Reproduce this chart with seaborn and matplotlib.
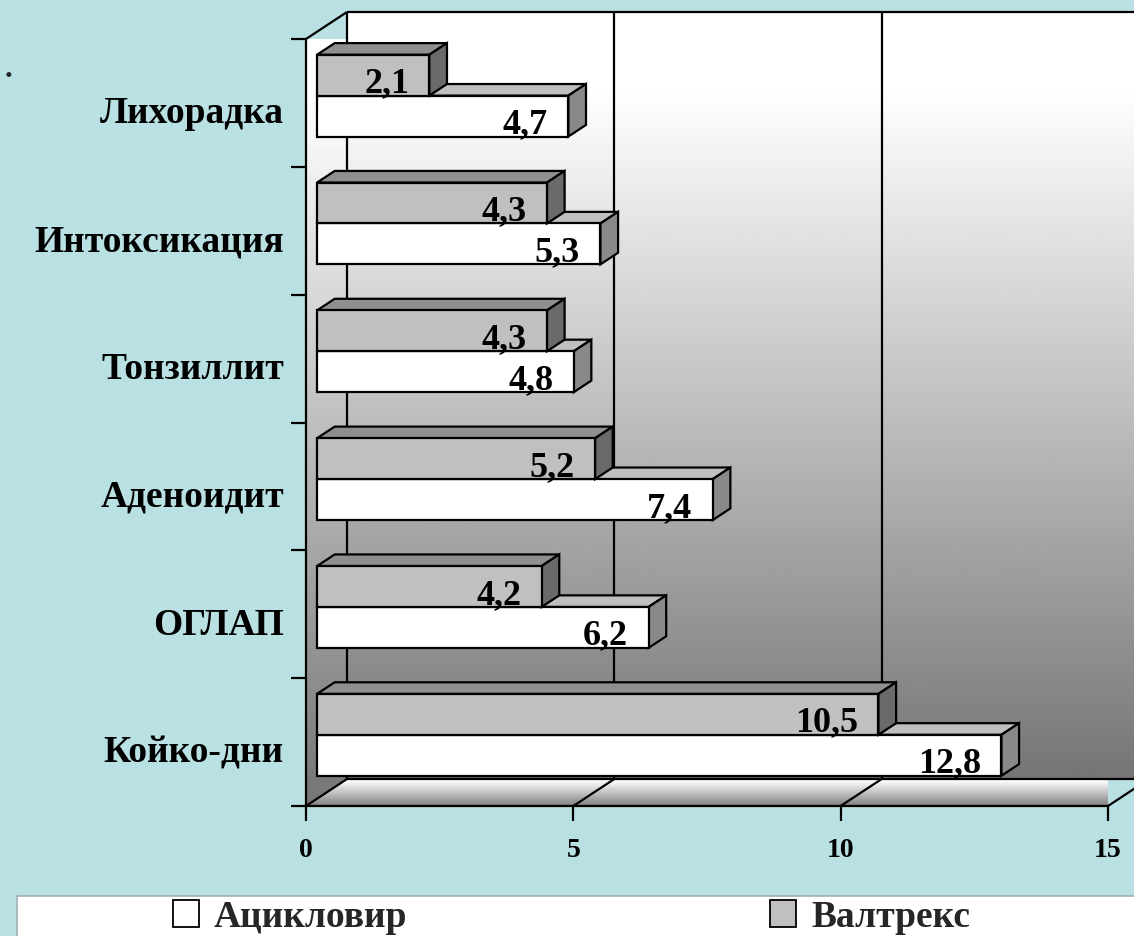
import numpy as np
import pandas as pd
import matplotlib
matplotlib.use("Agg")
import matplotlib.pyplot as plt
from matplotlib.patches import Polygon, Rectangle, Patch
from matplotlib.transforms import Affine2D, ScaledTranslation
import seaborn as sns

# ---- data ----
categories = ["Лихорадка", "Интоксикация", "Тонзиллит", "Аденоидит", "ОГЛАП", "Койко-дни"]
aciclovir = [4.7, 5.3, 4.8, 7.4, 6.2, 12.8]
valtrex = [2.1, 4.3, 4.3, 5.2, 4.2, 10.5]
series_names = ["Ацикловир", "Валтрекс"]
x_ticks = [0, 5, 10, 15]

df = pd.DataFrame({
    "category": categories * 2,
    "value": aciclovir + valtrex,
    "drug": [series_names[0]] * len(categories) + [series_names[1]] * len(categories),
})

# ---- figure ----
W, H, DPI = 1134, 937, 100
sns.set_theme(style="white")
plt.rcParams["font.family"] = ["Liberation Serif", "DejaVu Serif"]
plt.rcParams["font.weight"] = "bold"

BG = "#b9e0e3"
fig = plt.figure(figsize=(W / DPI, H / DPI), dpi=DPI, facecolor=BG)

# front plane of the 3-D box (pixels)
left_px, right_px, top_px, bottom_px = 306, 1108, 40, 807
ax = fig.add_axes([left_px / W, 1 - bottom_px / H,
                   (right_px - left_px) / W, (bottom_px - top_px) / H])
ax.set_facecolor("none")

XMAX = x_ticks[-1]
YTOP, YBOT = -0.5, len(categories) - 0.5
px_x = (right_px - left_px) / XMAX
px_y = (bottom_px - top_px) / len(categories)
DX = 41 / px_x          # full box depth, horizontal component (data units)
DY = 27 / px_y          # full box depth, vertical component (data units)


def depth(d):
    return d * DX, -d * DY


def gradient(n, top, bottom, hold=0.0):
    t = np.linspace(0, 1, n)
    t = np.clip((t - hold) / (1 - hold), 0, 1)
    v = top + (bottom - top) * t
    return np.repeat(v[:, None], 2, axis=1)


# ---- walls and floor ----
bx, by = depth(1.0)
back = ax.imshow(gradient(256, 1.0, 0.46, hold=0.1), cmap="gray", vmin=0, vmax=1,
                 extent=(bx, XMAX + bx, YBOT + by, YTOP + by), origin="upper",
                 aspect="auto", interpolation="bilinear", zorder=0)
back.set_clip_on(False)

left_wall = Polygon([(0, YTOP), (bx, YTOP + by), (bx, YBOT + by), (0, YBOT)],
                    closed=True, transform=ax.transData)
lw_img = ax.imshow(gradient(256, 1.0, 0.46, hold=0.1), cmap="gray", vmin=0, vmax=1,
                   extent=(0, bx, YBOT, YTOP + by), origin="upper",
                   aspect="auto", interpolation="bilinear", zorder=0)
lw_img.set_clip_path(left_wall)
lw_img.set_clip_box(None)

floor = Polygon([(0, YBOT), (XMAX, YBOT), (XMAX + bx, YBOT + by), (bx, YBOT + by)],
                closed=True, transform=ax.transData)
fl_img = ax.imshow(gradient(64, 0.99, 0.50, hold=0.1), cmap="gray", vmin=0, vmax=1,
                   extent=(0, XMAX + bx, YBOT, YBOT + by), origin="upper",
                   aspect="auto", interpolation="bilinear", zorder=0)
fl_img.set_clip_path(floor)
fl_img.set_clip_box(None)

line_kw = dict(color="black", lw=1.6, clip_on=False, zorder=2, solid_capstyle="butt")
# back wall outline and grid
ax.plot([bx, XMAX + bx + 1], [YTOP + by, YTOP + by], **line_kw)
ax.plot([bx, XMAX + bx + 1], [YBOT + by, YBOT + by], **line_kw)
ax.plot([bx, bx], [YTOP + by, YBOT + by], **line_kw)
ax.plot([0, bx], [YTOP, YTOP + by], **line_kw)
for t in x_ticks[1:]:
    ax.plot([t + bx, t + bx], [YTOP + by, YBOT + by], **line_kw)
for t in x_ticks:
    ax.plot([t, t + bx], [YBOT, YBOT + by], **line_kw)

# ---- bars ----
colors = {series_names[0]: "#ffffff", series_names[1]: "#c0c0c0"}
face_shades = {series_names[0]: ("#bfbfbf", "#898989"),
               series_names[1]: ("#8f8f8f", "#6a6a6a")}
sns.barplot(data=df, y="category", x="value", hue="drug",
            hue_order=[series_names[1], series_names[0]], order=categories,
            palette=colors, orient="h", width=0.64, saturation=1,
            edgecolor="black", linewidth=1.6, ax=ax, legend=False)

D0, D1 = 0.27, 0.70
a0, b0 = depth(D0)
a1, b1 = depth(D1)
shift = Affine2D().translate(a0, b0) + ax.transData

for p in list(ax.patches):
    x0, y0, w, h = p.get_x(), p.get_y(), p.get_width(), p.get_height()
    fc = matplotlib.colors.to_hex(p.get_facecolor())
    name = series_names[0] if fc == "#ffffff" else series_names[1]
    z = 5 if name == series_names[0] else 6
    top_c, side_c = face_shades[name]
    p.set_transform(shift)
    p.set_zorder(z + 0.1)
    top = Polygon([(x0 + a0, y0 + b0), (x0 + w + a0, y0 + b0),
                   (x0 + w + a1, y0 + b1), (x0 + a1, y0 + b1)],
                  closed=True, facecolor=top_c, edgecolor="black", lw=1.6, zorder=z)
    side = Polygon([(x0 + w + a0, y0 + b0), (x0 + w + a1, y0 + b1),
                    (x0 + w + a1, y0 + h + b1), (x0 + w + a0, y0 + h + b0)],
                   closed=True, facecolor=side_c, edgecolor="black", lw=1.6, zorder=z)
    ax.add_patch(top)
    ax.add_patch(side)
    ax.text(x0 + w + a0 - 0.38, y0 + h / 2 + b0 + 0.06,
            f"{w:.1f}".replace(".", ","), ha="right", va="center",
            fontsize=26, fontweight="bold", color="black", zorder=10)

# ---- axes ----
ax.set_xlim(0, XMAX)
ax.set_ylim(YBOT, YTOP)
ax.set_xlabel("")
ax.set_ylabel("")
for s in ["top", "right"]:
    ax.spines[s].set_visible(False)
for s in ["left", "bottom"]:
    ax.spines[s].set_color("black")
    ax.spines[s].set_linewidth(1.6)
    ax.spines[s].set_zorder(3)

ax.set_xticks(x_ticks)
ax.set_xticklabels([str(t) for t in x_ticks], fontsize=20, fontweight="bold")
ax.tick_params(axis="x", direction="out", length=11, width=1.6, colors="black",
               pad=11, bottom=True)
ax.set_yticks(range(len(categories)))
ax.set_yticklabels(categories, fontsize=27, fontweight="bold")
ax.tick_params(axis="y", which="major", length=0, pad=16, colors="black")
ax.set_yticks(np.arange(YTOP, YBOT + 0.5, 1), minor=True)
ax.tick_params(axis="y", which="minor", direction="out", length=11, width=1.6,
               colors="black", left=True)
down = ScaledTranslation(0, -6 / DPI, fig.dpi_scale_trans)
for lab in ax.get_yticklabels():
    lab.set_transform(lab.get_transform() + down)

# ---- legend strip ----
fig.patches.append(Rectangle((17 / W, -0.01), 1.0, (937 - 897) / H + 0.01,
                             transform=fig.transFigure, facecolor="white",
                             edgecolor="#9fb3b5", lw=1.2, zorder=0))
for name, cx in zip(series_names, [290, 870]):
    fig.legend(handles=[Patch(facecolor=colors[name], edgecolor="black", lw=1.3)],
               labels=[name], loc="center", bbox_to_anchor=(cx / W, 1 - 918 / H),
               frameon=False, handlelength=0.7, handleheight=0.7,
               handletextpad=0.4, borderpad=0,
               prop={"size": 27, "weight": "bold",
                     "family": ["Liberation Serif", "DejaVu Serif"]})

fig.text(5 / W, 1 - 77 / H, ".", fontsize=22, fontweight="bold", va="baseline")

fig.savefig("out.png", dpi=DPI, facecolor=BG)
